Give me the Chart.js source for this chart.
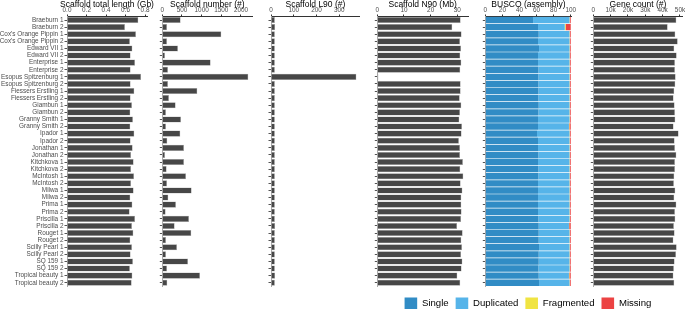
<!DOCTYPE html>
<html>
<head>
<meta charset="utf-8">
<script src="https://cdn.jsdelivr.net/npm/chart.js@4.4.1/dist/chart.umd.min.js"></script>
<style>
  html, body { margin: 0; padding: 0; background: #fff; }
  body { width: 685px; height: 309px; overflow: hidden; position: relative; }
  canvas { position: absolute; top: 0; }
</style>
</head>
<body>
<canvas id="lengthChart" width="160" height="320" style="left:0px"></canvas>
<canvas id="numberChart" width="115" height="320" style="left:150px"></canvas>
<canvas id="l90Chart" width="115" height="320" style="left:258px"></canvas>
<canvas id="n90Chart" width="112" height="320" style="left:365px"></canvas>
<canvas id="buscoChart" width="300" height="320" style="left:378px"></canvas>
<canvas id="geneChart" width="110" height="320" style="left:585px"></canvas>
<script>
const cultivars = [
  'Braeburn 1', 'Braeburn 2', "Cox's Orange Pippin 1", "Cox's Orange Pippin 2",
  'Edward VII 1', 'Edward VII 2', 'Enterprise 1', 'Enterprise 2',
  'Esopus Spitzenburg 1', 'Esopus Spitzenburg 2', 'Fiessers Erstling 1', 'Fiessers Erstling 2',
  'Giambun 1', 'Giambun 2', 'Granny Smith 1', 'Granny Smith 2',
  'Ipador 1', 'Ipador 2', 'Jonathan 1', 'Jonathan 2',
  'Kitchkova 1', 'Kitchkova 2', 'McIntosh 1', 'McIntosh 2',
  'Milwa 1', 'Milwa 2', 'Prima 1', 'Prima 2',
  'Priscilla 1', 'Priscilla 2', 'Rouget 1', 'Rouget 2',
  'Scilly Pearl 1', 'Scilly Pearl 2', 'SQ 159 1', 'SQ 159 2',
  'Tropical beauty 1', 'Tropical beauty 2'
];

// Gb
const totalLength = [0.731, 0.594, 0.707, 0.645, 0.670, 0.652, 0.697, 0.652, 0.759, 0.652,
  0.690, 0.652, 0.666, 0.649, 0.676, 0.649, 0.690, 0.652, 0.673, 0.656,
  0.683, 0.656, 0.687, 0.656, 0.683, 0.649, 0.670, 0.642, 0.697, 0.666,
  0.680, 0.649, 0.666, 0.652, 0.676, 0.645, 0.670, 0.663];

const scaffoldNumber = [466, 119, 1500, 119, 398, 68, 1229, 144, 2186, 144,
  890, 169, 339, 93, 475, 93, 458, 127, 551, 68,
  551, 110, 602, 119, 746, 153, 347, 85, 678, 314,
  737, 93, 373, 93, 653, 119, 958, 127];

const scaffoldL90 = [17, 18, 17, 17, 17, 17, 17, 17, 375, 17,
  17, 17, 17, 17, 17, 17, 17, 17, 17, 17,
  17, 17, 17, 17, 17, 17, 17, 17, 17, 18,
  17, 17, 17, 17, 17, 17, 18, 17];

// Mb
const scaffoldN90 = [31.25, 28.1, 31.6, 31.0, 31.4, 31.1, 31.5, 31.1, 0.4, 31.25,
  31.25, 30.9, 31.5, 31.0, 30.75, 31.75, 31.6, 30.6, 31.0, 31.0,
  32.1, 31.1, 32.25, 31.25, 31.9, 31.5, 31.5, 31.6, 31.4, 29.9,
  32.0, 31.5, 31.75, 31.4, 31.9, 31.6, 30.0, 31.1];

// BUSCO (%)
const buscoSingle = [55.9, 61.7, 62.5, 61.7, 62.9, 61.7, 61.7, 62.1, 62.1, 62.1,
  62.1, 62.1, 62.5, 62.1, 61.7, 61.7, 60.5, 61.7, 61.7, 62.1,
  61.7, 62.1, 62.1, 61.7, 61.7, 61.7, 61.7, 61.7, 62.1, 62.5,
  62.5, 62.5, 62.9, 62.5, 62.5, 62.1, 62.5, 62.9];
const buscoDuplicated = [42.6, 31.3, 36.0, 36.8, 35.6, 36.8, 36.8, 36.4, 36.4, 36.4,
  36.4, 36.4, 36.0, 36.4, 36.8, 36.2, 38.0, 36.8, 36.8, 36.4,
  36.8, 36.4, 36.4, 36.8, 36.8, 36.8, 36.8, 36.8, 36.4, 35.4,
  36.0, 36.0, 35.6, 36.0, 36.0, 36.4, 35.4, 35.6];
const buscoFragmented = [0.4, 1.0, 0.4, 0.4, 0.4, 0.4, 0.4, 0.4, 0.4, 0.4,
  0.4, 0.4, 0.4, 0.4, 0.4, 0.5, 0.4, 0.4, 0.4, 0.4,
  0.4, 0.4, 0.4, 0.4, 0.4, 0.4, 0.4, 0.4, 0.4, 0.3,
  0.4, 0.4, 0.4, 0.4, 0.4, 0.4, 0.5, 0.4];
const buscoMissing = [1.1, 6.0, 1.1, 1.1, 1.1, 1.1, 1.1, 1.1, 1.1, 1.1,
  1.1, 1.1, 1.1, 1.1, 1.1, 1.6, 1.1, 1.1, 1.1, 1.1,
  1.1, 1.1, 1.1, 1.1, 1.1, 1.1, 1.1, 1.1, 1.1, 1.8,
  1.1, 1.1, 1.1, 1.1, 1.1, 1.1, 1.6, 1.1];

const geneCount = [47900, 42900, 47300, 48700, 46700, 48100, 47100, 47100, 47500, 47300,
  46700, 46300, 46900, 47100, 47300, 46300, 49200, 46900, 47100, 47900,
  47100, 47100, 46700, 46500, 47300, 46700, 47900, 47100, 47300, 46500,
  46900, 46200, 48100, 47700, 46900, 46500, 46200, 46700];

// top-axis tick values for each panel
const lengthTicks = [0, 0.2, 0.4, 0.6, 0.8];
const numberTicks = [0, 500, 1000, 1500, 2000];
const l90Ticks = [0, 100, 200, 300];
const n90Ticks = [0, 10, 20, 30];
const buscoTicks = [0, 20, 40, 60, 80, 100];
const geneTicks = [0, 10000, 20000, 30000, 40000, 50000];

Chart.defaults.font.family = '"Liberation Sans", Arial, sans-serif';
Chart.defaults.font.size = 6.4;
Chart.defaults.color = '#4d4d4d';

const BAR_GREY = '#474747';
const CHART_BOTTOM = 286.3;

// panel title centred over the plot area (may be wider than the panel)
const panelTitle = {
  id: 'panelTitle',
  afterDraw(chart, args, opts) {
    const { ctx, chartArea } = chart;
    ctx.save();
    ctx.font = '8.5px "Liberation Sans", Arial, sans-serif';
    ctx.fillStyle = '#000';
    ctx.textAlign = 'center';
    ctx.textBaseline = 'alphabetic';
    ctx.fillText(opts.text, (chartArea.left + chartArea.right) / 2, 7.4);
    ctx.restore();
  }
};

function xScale(max, tickValues, fmt) {
  return {
    position: 'top',
    min: 0,
    max: max,
    afterFit: s => { s.height = 16.5; },
    afterBuildTicks: s => { s.ticks = tickValues.map(v => ({ value: v })); },
    grid: { display: true, drawOnChartArea: false, tickLength: 2, color: '#333' },
    border: { display: true, color: '#333' },
    ticks: { padding: 0, maxRotation: 0, autoSkip: false, callback: fmt }
  };
}

function yScale(width, showLabels) {
  return {
    type: 'category',
    afterFit: s => { s.width = width; },
    grid: { display: true, drawOnChartArea: false, offset: false, tickLength: 2.5, color: '#555' },
    border: { display: true, color: '#aaa' },
    ticks: { display: showLabels, padding: 1, autoSkip: false }
  };
}

function greyPanel(id, title, values, p) {
  const canvas = document.getElementById(id);
  const left = parseFloat(canvas.style.left);
  new Chart(canvas, {
    type: 'bar',
    data: {
      labels: cultivars,
      datasets: [{
        data: values,
        backgroundColor: BAR_GREY,
        borderColor: '#a8a8a8',
        borderWidth: 0.5,
        barPercentage: 0.86,
        categoryPercentage: 1
      }]
    },
    options: {
      indexAxis: 'y',
      responsive: false,
      animation: false,
      events: [],
      layout: { padding: { left: 0, top: 0, right: left + canvas.width - p.right, bottom: canvas.height - CHART_BOTTOM } },
      plugins: { legend: { display: false }, tooltip: { enabled: false }, panelTitle: { text: title } },
      scales: {
        x: xScale(p.max, p.ticks, p.fmt),
        y: yScale(p.zero - left, !!p.labels)
      }
    },
    plugins: [panelTitle]
  });
}

greyPanel('lengthChart', 'Scaffold total length (Gb)', totalLength,
  { zero: 67, right: 147, max: 0.82, ticks: lengthTicks, fmt: v => v.toFixed(1), labels: true });
greyPanel('numberChart', 'Scaffold number (#)', scaffoldNumber,
  { zero: 162.3, right: 252.4, max: 2290, ticks: numberTicks, fmt: v => String(v) });
greyPanel('l90Chart', 'Scaffold L90 (#)', scaffoldL90,
  { zero: 271, right: 359.8, max: 390, ticks: l90Ticks, fmt: v => String(v) });
greyPanel('n90Chart', 'Scaffold N90 (Mb)', scaffoldN90,
  { zero: 377.3, right: 468, max: 34, ticks: n90Ticks, fmt: v => String(v) });
greyPanel('geneChart', 'Gene count (#)', geneCount,
  { zero: 593.3, right: 682.6, max: 51500, ticks: geneTicks, fmt: v => v === 0 ? '0' : (v / 1000) + 'k' });

// BUSCO stacked panel with the legend underneath
(function () {
  const canvas = document.getElementById('buscoChart');
  const left = parseFloat(canvas.style.left);
  const zero = 485.3, right = 571.6;
  const seg = (label, data, color) => ({
    label, data, backgroundColor: color, borderWidth: 0,
    barPercentage: 0.9, categoryPercentage: 1
  });
  const y = yScale(zero - left, false);
  y.stacked = true;
  const x = xScale(101, buscoTicks, v => String(v));
  x.stacked = true;
  new Chart(canvas, {
    type: 'bar',
    data: {
      labels: cultivars,
      datasets: [
        seg('Single', buscoSingle, '#318cc5'),
        seg('Duplicated', buscoDuplicated, '#56b4e9'),
        seg('Fragmented', buscoFragmented, '#f0e442'),
        seg('Missing', buscoMissing, '#ec4343')
      ]
    },
    options: {
      indexAxis: 'y',
      responsive: false,
      animation: false,
      events: [],
      layout: { padding: 0 },
      plugins: {
        tooltip: { enabled: false },
        panelTitle: { text: 'BUSCO (assembly)' },
        legend: {
          display: true,
          position: 'bottom',
          title: { display: true, text: '', padding: { top: 3.1, bottom: 0 }, font: { size: 1, lineHeight: 1 } },
          labels: { boxWidth: 12.6, boxHeight: 12.6, padding: 7, color: '#000', font: { size: 9.6 } }
        }
      },
      scales: {
        x: x,
        y: y,
        y2: {
          type: 'linear',
          position: 'right',
          afterFit: s => { s.width = left + canvas.width - right; },
          grid: { display: false },
          border: { display: false },
          ticks: { display: false }
        }
      }
    },
    plugins: [panelTitle]
  });
})();
</script>
</body>
</html>
